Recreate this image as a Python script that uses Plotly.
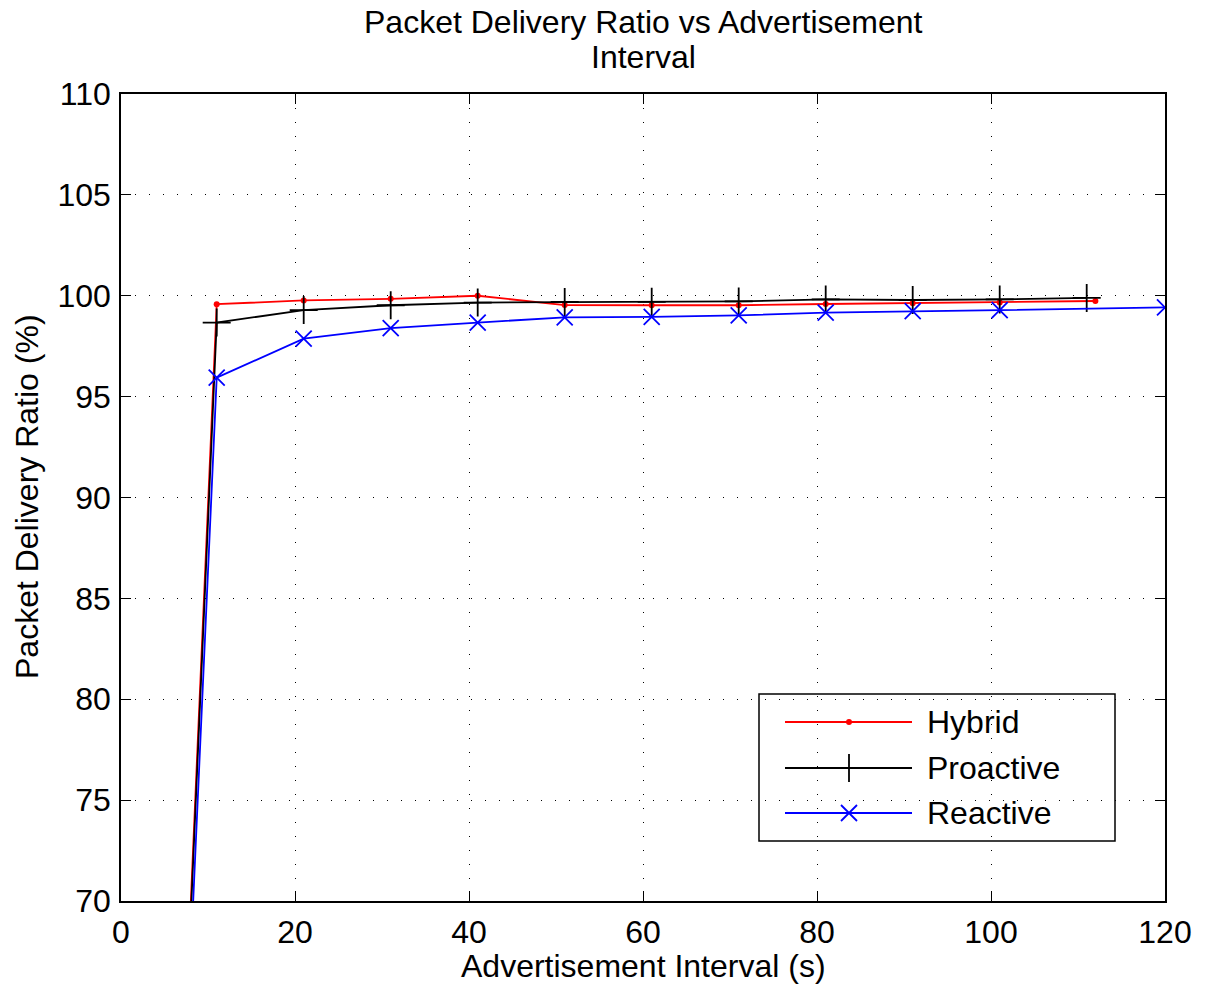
import plotly.graph_objects as go

# ---- data ----
hybrid_x = [1, 11, 21, 31, 41, 51, 61, 71, 81, 91, 101, 112]
hybrid_y = [0, 99.58, 99.77, 99.85, 100.0, 99.54, 99.53, 99.53, 99.59, 99.63, 99.66, 99.74]

proactive_x = [1, 11, 21, 31, 41, 51, 61, 71, 81, 91, 101, 111]
proactive_y = [0, 98.67, 99.29, 99.53, 99.66, 99.69, 99.70, 99.72, 99.82, 99.79, 99.82, 99.89]

reactive_x = [1, 11, 21, 31, 41, 51, 61, 71, 81, 91, 101, 120]
reactive_y = [0, 95.94, 97.87, 98.40, 98.67, 98.93, 98.95, 99.03, 99.16, 99.24, 99.29, 99.42]

series_names = ["Hybrid", "Proactive", "Reactive"]
x_ticks = [0, 20, 40, 60, 80, 100, 120]
y_ticks = [70, 75, 80, 85, 90, 95, 100, 105, 110]

FONT = "Liberation Sans, Arial, Helvetica, sans-serif"
FS = 32

W, H = 1209, 985
L_img, R_img, T_img, B_img = 121, 1165, 94, 901
PW, PH = R_img - L_img, B_img - T_img


def py(img_y):
    """screenshot y pixel -> paper y"""
    return (B_img - img_y) / PH


def px(img_x):
    return (img_x - L_img) / PW


fig = go.Figure()

styles = [
    dict(line=dict(color="red", width=1.8),
         marker=dict(symbol="circle", size=6, color="red")),
    dict(line=dict(color="black", width=1.8),
         marker=dict(symbol="cross-thin", size=20, color="black",
                     line=dict(color="black", width=1.8))),
    dict(line=dict(color="blue", width=1.8),
         marker=dict(symbol="x-thin", size=16, color="blue",
                     line=dict(color="blue", width=1.8))),
]

for name, xs, ys, st in zip(series_names, [hybrid_x, proactive_x, reactive_x],
                            [hybrid_y, proactive_y, reactive_y], styles):
    fig.add_trace(go.Scatter(x=xs, y=ys, mode="lines+markers", name=name,
                             line=st["line"], marker=st["marker"],
                             showlegend=False))

# ---- custom legend drawn on a hidden pixel-space overlay axis ----
leg_rows = [722, 768, 813]
leg_x0, leg_x1, leg_xm, leg_tx = 785, 912, 849, 925
for name, yy, st in zip(series_names, leg_rows, styles):
    fig.add_trace(go.Scatter(x=[leg_x0, leg_x1], y=[yy, yy], mode="lines",
                             line=st["line"], xaxis="x2", yaxis="y2",
                             showlegend=False, hoverinfo="skip"))
    fig.add_trace(go.Scatter(x=[leg_xm], y=[yy], mode="markers",
                             marker=st["marker"], xaxis="x2", yaxis="y2",
                             showlegend=False, hoverinfo="skip"))
    fig.add_annotation(x=leg_tx, y=yy, xref="x2", yref="y2", text=name,
                       showarrow=False, xanchor="left", yanchor="middle",
                       font=dict(family=FONT, size=FS, color="black"))

fig.add_shape(type="rect", xref="x2", yref="y2", x0=759, x1=1115, y0=694, y1=841,
              line=dict(color="black", width=1.5), fillcolor="white", layer="below")

# ---- titles as annotations ----
fig.add_annotation(x=0.5, y=py(22), xref="paper", yref="paper",
                   text="Packet Delivery Ratio vs Advertisement", showarrow=False,
                   xanchor="center", yanchor="middle",
                   font=dict(family=FONT, size=FS, color="black"))
fig.add_annotation(x=0.5, y=py(57), xref="paper", yref="paper",
                   text="Interval", showarrow=False,
                   xanchor="center", yanchor="middle",
                   font=dict(family=FONT, size=FS, color="black"))
fig.add_annotation(x=0.5, y=py(966), xref="paper", yref="paper",
                   text="Advertisement Interval (s)", showarrow=False,
                   xanchor="center", yanchor="middle",
                   font=dict(family=FONT, size=FS, color="black"))
fig.add_annotation(x=px(27), y=py(497), xref="paper", yref="paper",
                   text="Packet Delivery Ratio (%)", showarrow=False, textangle=-90,
                   xanchor="center", yanchor="middle",
                   font=dict(family=FONT, size=FS, color="black"))

axis_common = dict(showline=True, linecolor="black", linewidth=1.5, mirror="ticks",
                   ticks="inside", ticklen=10, tickwidth=1, tickcolor="black",
                   showgrid=True, gridcolor="black", gridwidth=1, griddash="1px,13px",
                   zeroline=False,
                   tickfont=dict(family=FONT, size=FS, color="black"))

fig.update_layout(
    width=W, height=H,
    margin=dict(l=L_img, r=W - R_img, t=T_img, b=H - B_img, pad=0),
    paper_bgcolor="white", plot_bgcolor="white",
    xaxis=dict(range=[0, 120], tickvals=x_ticks, ticktext=[str(v) for v in x_ticks],
               ticklabelstandoff=2, **axis_common),
    yaxis=dict(range=[70, 110], tickvals=y_ticks, ticktext=[str(v) for v in y_ticks],
               ticklabelstandoff=2, **axis_common),
    xaxis2=dict(range=[L_img, R_img], domain=[0, 1], visible=False, overlaying="x",
                fixedrange=True),
    yaxis2=dict(range=[B_img, T_img], domain=[0, 1], visible=False, overlaying="y",
                fixedrange=True),
    font=dict(family=FONT, size=FS, color="black"),
    showlegend=False,
)

fig.write_html("out.html",
               config={"displayModeBar": False},
               post_script="document.body.style.margin='0';"
                           "document.body.style.overflow='hidden';")
